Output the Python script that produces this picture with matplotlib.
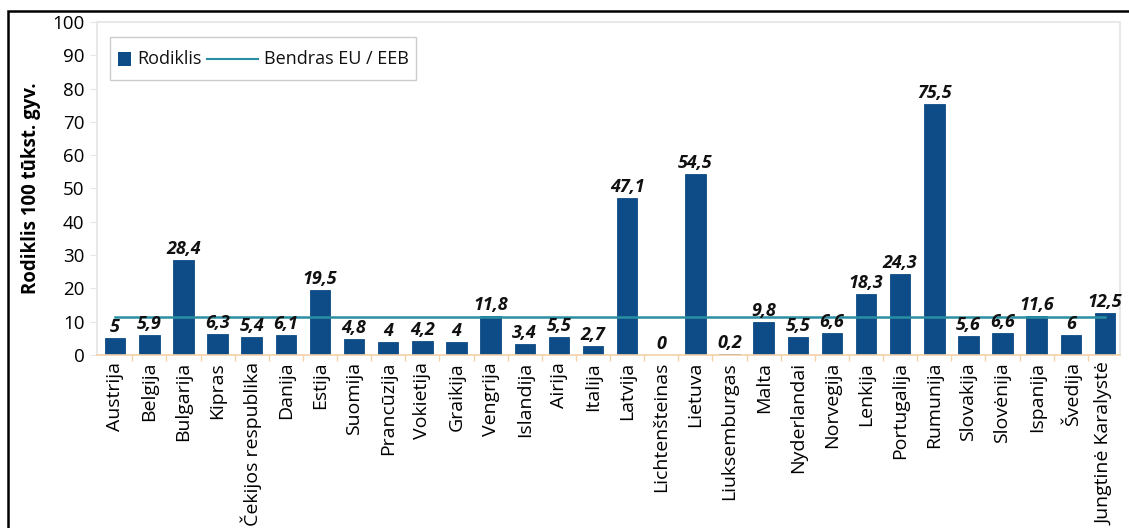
import matplotlib

matplotlib.use("Agg")
import matplotlib.pyplot as plt
from matplotlib.lines import Line2D
from matplotlib.offsetbox import AnchoredOffsetbox, DrawingArea, HPacker, TextArea
from matplotlib.patches import Rectangle
import numpy as np

plt.rcParams["font.family"] = ["Open Sans", "DejaVu Sans"]

countries = [
    "Austrija", "Belgija", "Bulgarija", "Kipras", "Čekijos respublika", "Danija",
    "Estija", "Suomija", "Prancūzija", "Vokietija", "Graikija", "Vengrija",
    "Islandija", "Airija", "Italija", "Latvija", "Lichtenšteinas", "Lietuva",
    "Liuksemburgas", "Malta", "Nyderlandai", "Norvegija", "Lenkija", "Portugalija",
    "Rumunija", "Slovakija", "Slovėnija", "Ispanija", "Švedija", "Jungtinė Karalystė",
]
rodiklis = [
    5, 5.9, 28.4, 6.3, 5.4, 6.1,
    19.5, 4.8, 4, 4.2, 4, 11.8,
    3.4, 5.5, 2.7, 47.1, 0, 54.5,
    0.2, 9.8, 5.5, 6.6, 18.3, 24.3,
    75.5, 5.6, 6.6, 11.6, 6, 12.5,
]
eu_average = 11.3
y_ticks = list(range(0, 101, 10))

bar_color = "#0d4c86"
line_color = "#2a8fa3"

fig = plt.figure(figsize=(11.29, 5.28), dpi=100)
ax = fig.add_axes([0.086, 0.328, 0.906, 0.630])

x = np.arange(len(countries))
ax.bar(x, rodiklis, width=0.6, color=bar_color, edgecolor=bar_color,
       linewidth=0.6, zorder=2)
ax.plot(x, [eu_average] * len(x), color=line_color, linewidth=1.8, zorder=3)

for xi, v in zip(x, rodiklis):
    ax.text(xi, v + 0.6, f"{v:g}".replace(".", ","), ha="center", va="bottom",
            fontsize=13, fontweight="bold", fontstyle="italic", color="#111111",
            zorder=4)

ax.set_xlim(-0.53, len(x) - 0.56)
ax.set_ylim(0, 100)
ax.set_yticks(y_ticks)
ax.tick_params(axis="y", labelsize=13.5, length=5, color="#e6e6e6", pad=4)
ax.set_xticks(x)
ax.set_xticklabels(countries, rotation=90, fontsize=14)
ax.tick_params(axis="x", length=0, pad=5)

# small separators between categories on the baseline
ax.set_xticks(x[:-1] + 0.5, minor=True)
ax.tick_params(axis="x", which="minor", length=4, color="#f3d2a8", width=1)

for side in ["left", "top", "right"]:
    ax.spines[side].set_color("#e8e8e8")
    ax.spines[side].set_linewidth(1.5)
ax.spines["bottom"].set_color("#f3d2a8")
ax.spines["bottom"].set_linewidth(1.2)

ax.set_ylabel("Rodiklis 100 tūkst. gyv.", fontsize=13.4, fontweight="bold",
              labelpad=8)

# legend: small square for the bars, long stroke for the average line
square = DrawingArea(10, 20, 0, 0)
square.add_artist(Rectangle((0, 5), 10, 10, facecolor=bar_color, edgecolor="none"))
stroke = DrawingArea(37, 20, 0, 0)
stroke.add_artist(Line2D([0, 37], [10, 10], color=line_color, linewidth=1.5))
text_props = dict(fontsize=13, color="#111111")
packed = HPacker(
    children=[
        square,
        TextArea("Rodiklis", textprops=text_props),
        stroke,
        TextArea("Bendras EU / EEB", textprops=text_props),
    ],
    align="center", pad=0, sep=4,
)
legend_box = AnchoredOffsetbox(loc="upper left", child=packed, pad=0.55,
                               borderpad=0, frameon=True,
                               bbox_to_anchor=(0.0125, 0.955),
                               bbox_transform=ax.transAxes)
legend_box.patch.set_edgecolor("#cccccc")
legend_box.patch.set_linewidth(1.0)
ax.add_artist(legend_box)

# outer frame around the whole figure
fig.patches.append(Rectangle((8 / 1129, -0.1), 1.2, 0.1 + 1 - 11 / 528,
                             transform=fig.transFigure, fill=False,
                             edgecolor="black", linewidth=1.8))

fig.savefig("out.png", dpi=100)
